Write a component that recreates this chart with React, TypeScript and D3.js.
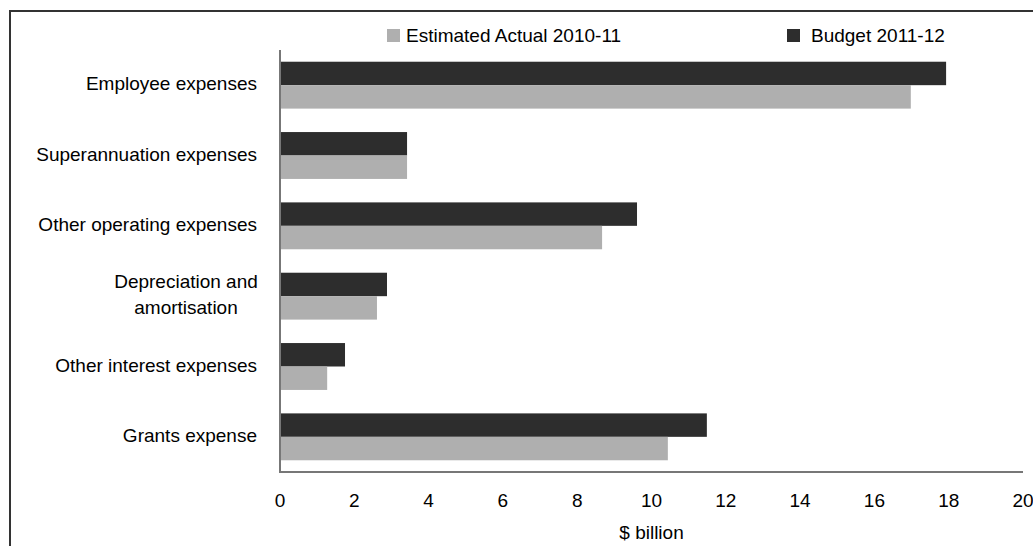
import React from "react";
import * as d3 from "d3";

const categories = [
  "Employee expenses",
  "Superannuation expenses",
  "Other operating expenses",
  "Depreciation and amortisation",
  "Other interest expenses",
  "Grants expense",
];
const categoryLines = [
  ["Employee expenses"],
  ["Superannuation expenses"],
  ["Other operating expenses"],
  ["Depreciation and", "amortisation"],
  ["Other interest expenses"],
  ["Grants expense"],
];
const seriesNames = ["Budget 2011-12", "Estimated Actual 2010-11"];
const budget2011 = [17.93, 3.42, 9.61, 2.88, 1.75, 11.49];
const actual2010 = [16.98, 3.42, 8.67, 2.61, 1.27, 10.44];
const xTicks = [0, 2, 4, 6, 8, 10, 12, 14, 16, 18, 20];

const W = 1033;
const H = 546;
const FONT = "'Liberation Sans', Arial, sans-serif";
const FS = 19;
const DARK = "#2d2d2d";
const LIGHT = "#afafaf";

export default function App() {
  const x = d3.scaleLinear().domain([0, 20]).range([280, 1023]);
  const y = d3.scaleBand<string>().domain(categories).range([50, 472]).paddingInner(1 / 3).paddingOuter(1 / 6);
  const inner = d3.scaleBand<string>().domain(seriesNames).range([0, y.bandwidth()]);
  const series = [budget2011, actual2010];
  const colors = [DARK, LIGHT];

  return (
    <svg
      width={W}
      height={H}
      style={{ position: "absolute", left: 0, top: 0, fontFamily: FONT }}
    >
      <rect x={0} y={0} width={W} height={H} fill="#fff" />
      <rect x={10} y={11} width={W + 50} height={H + 50} fill="none" stroke="#333" strokeWidth={2} />

      {categories.map((c, i) =>
        series.map((s, j) => (
          <rect
            key={c + j}
            x={x(0)}
            y={(y(c) as number) + (inner(seriesNames[j]) as number)}
            width={x(s[i]) - x(0)}
            height={inner.bandwidth()}
            fill={colors[j]}
          />
        ))
      )}

      <line x1={280} x2={280} y1={50} y2={472} stroke="#777" strokeWidth={2} />
      <line x1={279} x2={1023} y1={472} y2={472} stroke="#777" strokeWidth={2} />

      {xTicks.map((t) => (
        <text key={t} x={x(t)} y={507} textAnchor="middle" fontSize={FS} fill="#000">
          {t}
        </text>
      ))}
      <text x={(x(0) + x(20)) / 2} y={539} textAnchor="middle" fontSize={FS} fill="#000">
        $ billion
      </text>

      {categories.map((c, i) => {
        const cy = (y(c) as number) + y.bandwidth() / 2;
        const lines = categoryLines[i];
        const lh = 26.3;
        const start = cy - ((lines.length - 1) * lh) / 2;
        return lines.map((ln, k) => (
          <text
            key={c + k}
            x={lines.length > 1 ? 186 : 257}
            y={start + k * lh + 5}
            textAnchor={lines.length > 1 ? "middle" : "end"}
            fontSize={FS}
            fill="#000"
          >
            {ln}
          </text>
        ));
      })}

      <rect x={387} y={29} width={13} height={13} fill={LIGHT} />
      <text x={406} y={42} fontSize={FS} fill="#000">{seriesNames[1]}</text>
      <rect x={787} y={29} width={13} height={13} fill={DARK} />
      <text x={811} y={42} fontSize={FS} fill="#000">{seriesNames[0]}</text>
    </svg>
  );
}
